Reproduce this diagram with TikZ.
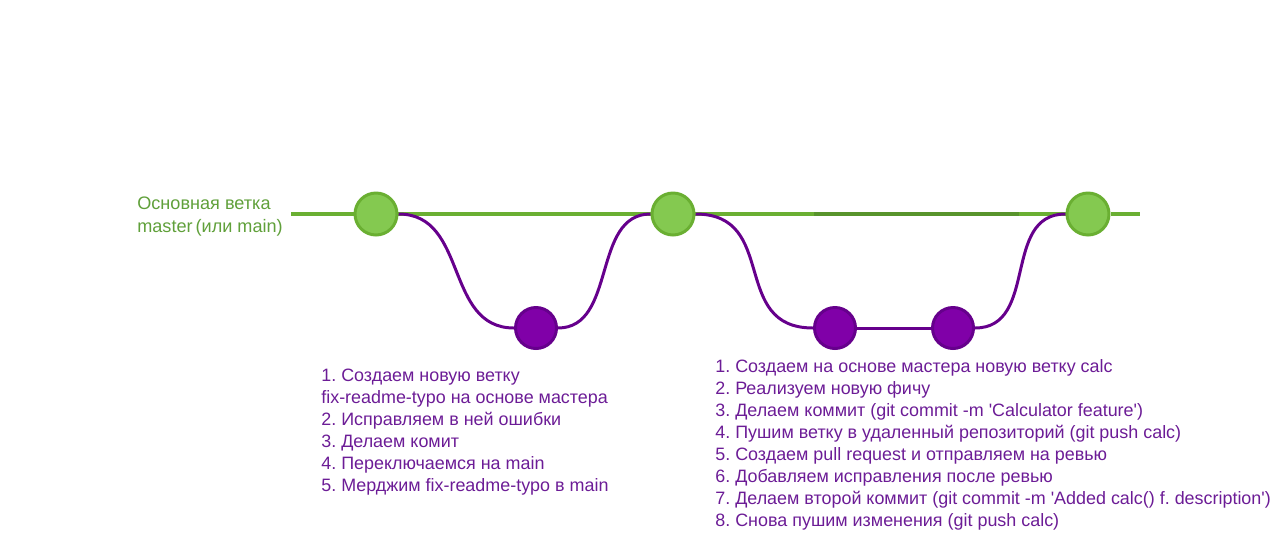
\documentclass[tikz,border=0pt]{standalone}
\usepackage{fontspec}
\setmainfont{Liberation Sans}
\usetikzlibrary{backgrounds}
\definecolor{mgreen}{RGB}{106,175,50}
\definecolor{mgreenfill}{RGB}{132,201,80}
\definecolor{mgreendark}{RGB}{88,148,44}
\definecolor{fpurple}{RGB}{102,0,140}
\definecolor{fpurplefill}{RGB}{128,0,168}
\definecolor{tpurple}{RGB}{108,28,150}
\definecolor{tgreen}{RGB}{96,160,58}
\frenchspacing

\begin{document}
\begin{tikzpicture}[x=0.02cm,y=-0.02cm,
  maincommit/.style={circle,draw=mgreen,fill=mgreenfill,line width=1.7pt,minimum size=0.84cm,inner sep=0pt},
  featcommit/.style={circle,draw=fpurple,fill=fpurplefill,line width=1.7pt,minimum size=0.82cm,inner sep=0pt},
  masterline/.style={draw=mgreen,line width=1.9pt},
  branchline/.style={draw=fpurple,line width=1.7pt},
  steps/.style={anchor=north west,align=left,inner sep=0pt,text=tpurple,font=\fontsize{10.2}{12.5}\selectfont}]
  \useasboundingbox (0,0) rectangle (1278,545);
  % commits
  \node (c1) at (376,214)  [maincommit] {};
  \node (c2) at (673,214)  [maincommit] {};
  \node (c3) at (1088,214) [maincommit] {};
  \node (f1) at (536,328)  [featcommit] {};
  \node (f2) at (835,328)  [featcommit] {};
  \node (f3) at (953,328)  [featcommit] {};
  \coordinate (mstart) at (291,214);
  \coordinate (mend) at (1140,214);
  \coordinate (dstart) at (814,214);
  \coordinate (dend) at (1019,214);
  % branches
  \begin{scope}[on background layer]
    \draw[masterline] (mstart) -- (c1) -- (c2) -- (c3) -- (mend);
    \draw[masterline,draw=mgreendark] (dstart) -- (dend);
    \draw[branchline] (c1.east) .. controls +(70,0) and +(-70,0) .. (f1.west);
    \draw[branchline] (f1.east) .. controls +(59,0) and +(-59,0) .. (c2.west);
    \draw[branchline] (c2.east) .. controls +(84,0) and +(-84,0) .. (f2.west);
    \draw[branchline] (f2) -- (f3);
    \draw[branchline] (f3.east) .. controls +(64,0) and +(-64,0) .. (c3.west);
  \end{scope}
  % labels
  \node (lbl) at (137,197) [anchor=north west,align=left,inner sep=0pt,text=tgreen,
    font=\fontsize{10.3}{13}\selectfont] {Основная ветка\\master\,(или main)};
  \node (fixsteps) at (321,369) [steps] {1. Создаем новую ветку\\
    fix-readme-typo на основе мастера\\
    2. Исправляем в ней ошибки\\
    3. Делаем комит\\
    4. Переключаемся на main\\
    5. Мерджим fix-readme-typo в main};
  \node (calcsteps) at (715,359) [steps] {1. Создаем на основе мастера новую ветку calc\\
    2. Реализуем новую фичу\\
    3. Делаем коммит (git commit -m \textquotesingle Calculator feature\textquotesingle)\\
    4. Пушим ветку в удаленный репозиторий (git push calc)\\
    5. Создаем pull request и отправляем на ревью\\
    6. Добавляем исправления после ревью\\
    7. Делаем второй коммит (git commit -m \textquotesingle Added calc() f. description\textquotesingle)\\
    8. Снова пушим изменения (git push calc)};
\end{tikzpicture}
\end{document}
